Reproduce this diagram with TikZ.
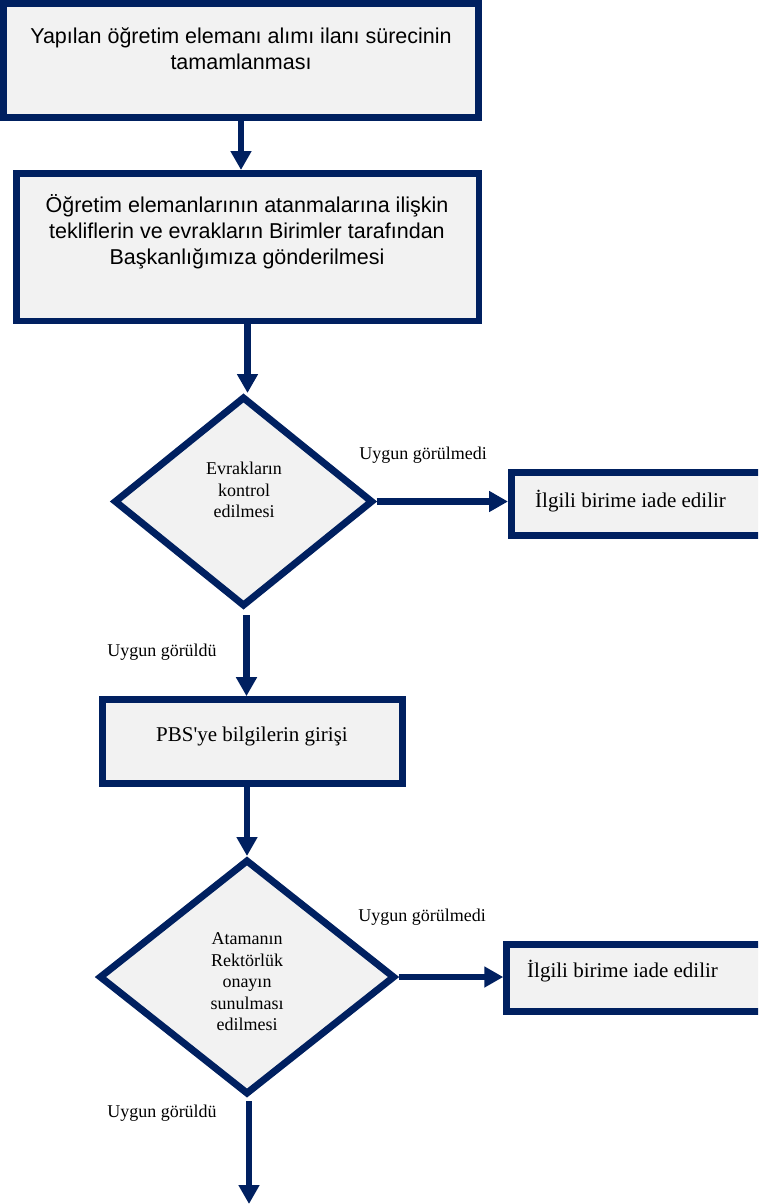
\documentclass[tikz,border=0pt]{standalone}
\usepackage{fontspec}
\setmainfont{Liberation Serif}
\newfontfamily\arialf{Liberation Sans}
\usetikzlibrary{arrows.meta,shapes.geometric}
\definecolor{navy}{HTML}{002060}
\definecolor{boxfill}{HTML}{F2F2F2}
\tikzset{
 flowbox/.style={draw=navy, fill=boxfill, line width=7pt, rectangle, inner sep=0pt},
 decbox/.style={draw=navy, fill=boxfill, line width=7pt, diamond, inner sep=0pt},
 arr/.style={draw=navy, line width=6.5pt, -{Triangle[length=19pt,width=20pt]}},
 sanstext/.style={font=\arialf\fontsize{21.5}{26}\selectfont, align=center, inner sep=0pt},
 decisiontext/.style={font=\fontsize{18}{21.5}\selectfont, align=center, inner sep=0pt},
 serifbig/.style={font=\fontsize{21}{25}\selectfont, inner sep=0pt},
 lbl/.style={font=\fontsize{18}{21.5}\selectfont, inner sep=0pt},
}
\begin{document}
\begin{tikzpicture}[x=1pt,y=-1pt]
\clip (0,0) rectangle (758,1204);
\fill[white] (0,0) rectangle (758,1204);
% boxes
\node[flowbox, minimum width=475pt, minimum height=114pt] (b1) at (241,60.5) {};
\node[sanstext] (b1t) at (241,48.5) {Yapılan öğretim elemanı alımı ilanı sürecinin\\tamamlanması};
\node[flowbox, line width=6.5pt, minimum width=462.5pt, minimum height=147.5pt] (b2) at (247.5,247) {};
\node[sanstext] (b2t) at (247,232) {Öğretim elemanlarının atanmalarına ilişkin\\tekliflerin ve evrakların Birimler tarafından\\Başkanlığımıza gönderilmesi};
\node[decbox, minimum width=259pt, minimum height=210pt] (d1) at (243.5,501.5) {};
\node[decisiontext] (d1t) at (244,490) {Evrakların\\kontrol\\edilmesi};
\node[flowbox, minimum width=278.5pt, minimum height=63pt] (r1) at (650.75,504) {};
\node[serifbig, anchor=base west] (r1t) at (535,507) {İlgili birime iade edilir};
\node[flowbox, line width=6.7pt, minimum width=300pt, minimum height=84pt] (b3) at (252.5,741.5) {};
\node[serifbig] (b3t) at (252,736) {PBS\textquotesingle ye bilgilerin girişi};
\node[decbox, minimum width=296pt, minimum height=235pt] (d2) at (247,977) {};
\node[decisiontext] (d2t) at (247,982) {Atamanın\\Rektörlük\\onayın\\sunulması\\edilmesi};
\node[flowbox, line width=6.5pt, minimum width=283.5pt, minimum height=67pt] (r2) at (648.25,978) {};
\node[serifbig, anchor=base west] (r2t) at (527,977) {İlgili birime iade edilir};
% labels
\node[lbl] (l1) at (423,455) {Uygun görülmedi};
\node[lbl] (l2) at (162,652) {Uygun görüldü};
\node[lbl] (l3) at (422,917) {Uygun görülmedi};
\node[lbl] (l4) at (162,1113) {Uygun görüldü};
% connectors
\coordinate (d1s) at ([shift={(3,5)}]d1.south);
\coordinate (d2s) at ([shift={(2,3)}]d2.south);
\coordinate (end) at (249,1204);
\draw[arr] (b1.south) -- (b1.south |- b2.north);
\draw[arr] (b2.south) -- (b2.south |- d1.north);
\draw[arr] (d1.east) -- (d1.east -| r1.west);
\draw[arr] (d1s) -- (d1s |- b3.north);
\draw[arr] (d2.north |- b3.south) -- (d2.north);
\draw[arr] (d2.east) -- (d2.east -| r2.west);
\draw[arr] (d2s) -- (d2s |- end);
\end{tikzpicture}
\end{document}
